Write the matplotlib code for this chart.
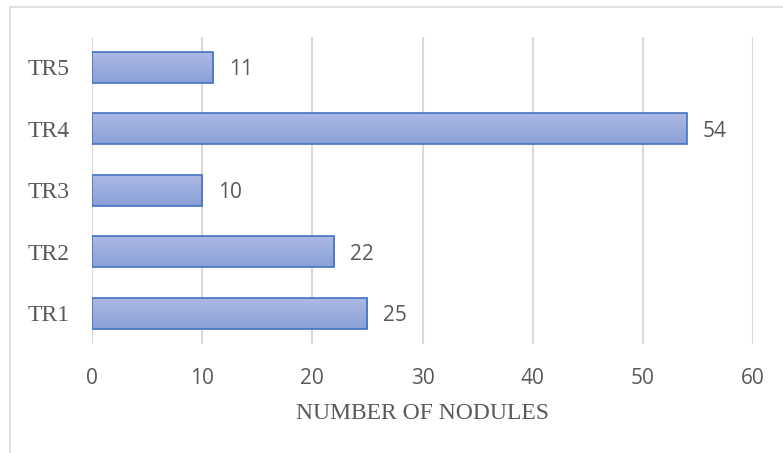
import numpy as np
import matplotlib.pyplot as plt
from matplotlib.lines import Line2D

# Datos del gráfico
categorias = ["TR1", "TR2", "TR3", "TR4", "TR5"]
nodulos = [25, 22, 10, 54, 11]
x_ticks = [0, 10, 20, 30, 40, 50, 60]

GRIS_TEXTO = "#595959"
GRIS_REJILLA = "#d9d9d9"
BORDE_BARRA = "#4472c4"

fig = plt.figure(figsize=(7.83, 4.53), dpi=100)
ax = fig.add_axes([0.1175, 0.2406, 0.8442, 0.6788])

pos = np.arange(len(categorias))
barras = ax.barh(pos, nodulos, height=0.5, color="none",
                 edgecolor=BORDE_BARRA, linewidth=1.2, zorder=3)

# relleno en degradado (más claro arriba, más oscuro abajo)
grad = np.linspace(0, 1, 64).reshape(-1, 1)
c_top = np.array([172, 185, 227]) / 255
c_bot = np.array([138, 160, 216]) / 255
img = c_top + (c_bot - c_top) * grad[:, :, None]
for b in barras:
    x0, y0 = b.get_x(), b.get_y()
    w, h = b.get_width(), b.get_height()
    im = ax.imshow(img, extent=[x0, x0 + w, y0, y0 + h], origin="upper",
                   aspect="auto", zorder=2, interpolation="bilinear")
    im.set_clip_path(b)

# etiquetas de valor
for p, v in zip(pos, nodulos):
    ax.annotate(str(v), (v, p), xytext=(11.5, -1.8), textcoords="offset points",
                va="center", ha="left", fontsize=15, color=GRIS_TEXTO,
                family="Open Sans")

ax.set_xlim(0, 60)
ax.set_ylim(-0.5, 4.5)
ax.set_xticks(x_ticks)
ax.set_xticklabels([str(t) for t in x_ticks], fontsize=15, color=GRIS_TEXTO,
                   family="Open Sans")
ax.set_yticks(pos)
ax.set_yticklabels(categorias, fontsize=17, color=GRIS_TEXTO,
                   family="Liberation Serif")
ax.tick_params(axis="both", length=0)
ax.tick_params(axis="x", pad=17)
ax.tick_params(axis="y", pad=16)

ax.grid(axis="x", color=GRIS_REJILLA, linewidth=1.5, zorder=0)
ax.set_axisbelow(True)
for s in ax.spines.values():
    s.set_visible(False)

ax.set_xlabel("NUMBER OF NODULES", fontsize=17, color=GRIS_TEXTO,
              family="Liberation Serif")
ax.xaxis.set_label_coords(0.5, -0.192)
ax.xaxis.label.set_va("top")

# marco del gráfico (solo se ven los bordes izquierdo y superior)
W, H = 783, 453
fig.add_artist(Line2D([10 / W, 10 / W], [0, 1 - 7 / H], transform=fig.transFigure,
                      color=GRIS_REJILLA, linewidth=1.2))
fig.add_artist(Line2D([10 / W, 1], [1 - 7 / H, 1 - 7 / H], transform=fig.transFigure,
                      color=GRIS_REJILLA, linewidth=1.2))

fig.savefig("out.png", dpi=100)
